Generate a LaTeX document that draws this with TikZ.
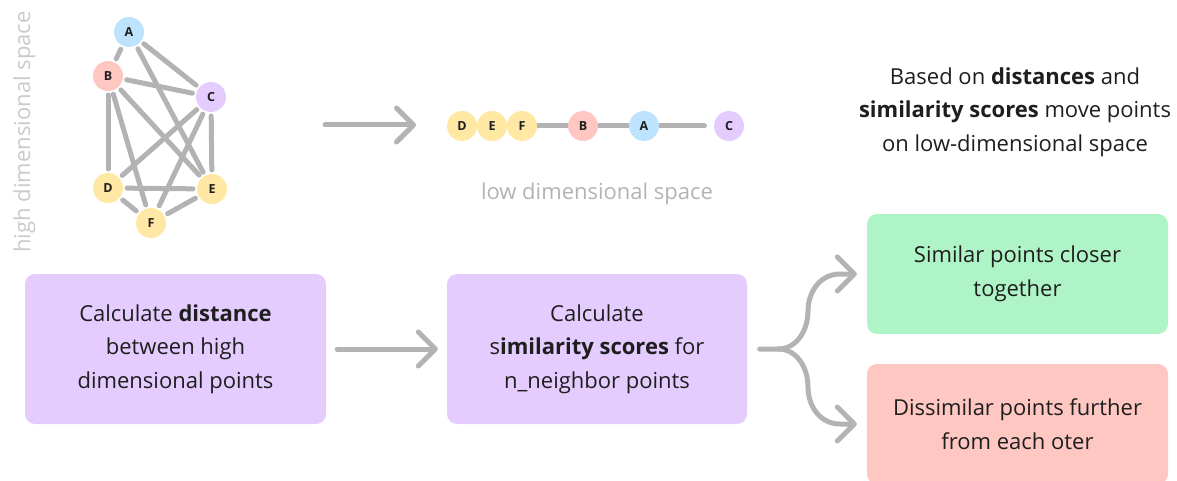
\documentclass[tikz,border=0pt]{standalone}
\usepackage{fontspec}
\setmainfont{Open Sans}
\usetikzlibrary{arrows.meta,backgrounds}
\definecolor{lblue}{HTML}{BDE3FF}
\definecolor{lred}{HTML}{FFC7C2}
\definecolor{lpurple}{HTML}{E4CCFF}
\definecolor{lyellow}{HTML}{FFE8A3}
\definecolor{lgreen}{HTML}{AFF4C6}
\definecolor{edgegray}{HTML}{B3B3B3}
\definecolor{lowtext}{HTML}{B3B3B3}
\definecolor{hightext}{HTML}{CACACA}
\definecolor{ink}{HTML}{1E1E1E}
\begin{document}
\begin{tikzpicture}[x=1pt,y=-1pt,
  every node/.style={text=ink},
  pt/.style={circle,inner sep=0pt,minimum size=30pt,font=\fontsize{12.5}{14}\selectfont\bfseries},
  gpt/.style={pt,outer sep=4pt},
  lpt/.style={pt,outer sep=0pt},
  edge/.style={line width=5pt,draw=edgegray,line cap=round},
  bigarrow/.style={line width=5pt,draw=edgegray,line cap=round,line join=round,
    -{Straight Barb[round,length=17pt,width=34pt]}},
  box/.style={rounded corners=10pt,minimum width=301pt,align=center,
    font=\fontsize{22}{33.5}\selectfont},
  label/.style={font=\fontsize{22}{33.5}\selectfont,align=center}
]
\useasboundingbox (0,0) rectangle (1177,481);

% high dimensional graph
\node[gpt,fill=lblue] (A) at (129,32) {A};
\node[gpt,fill=lred] (B) at (108,76) {B};
\node[gpt,fill=lpurple] (C) at (211,97) {C};
\node[gpt,fill=lyellow] (D) at (108,188) {D};
\node[gpt,fill=lyellow] (E) at (212,189) {E};
\node[gpt,fill=lyellow] (F) at (151,223) {F};
\foreach \u/\v in {A/B,A/C,A/E,B/C,B/D,B/F,B/E,C/D,C/F,C/E,D/E,D/F,E/F}
  \draw[edge] (\u) -- (\v);
\node[rotate=90,anchor=base,text=hightext,font=\fontsize{22}{26}\selectfont] (hightxt) at (30,132) {high dimensional space};

% arrow to low dimensional line
\coordinate (g1) at (325,125);
\coordinate (g2) at (416,125);
\draw[bigarrow] (g1) -- (g2);

% low dimensional line
\node[lpt,fill=lyellow] (lD) at (462,126) {D};
\node[lpt,fill=lyellow] (lE) at (492,126) {E};
\node[lpt,fill=lyellow] (lF) at (522,126) {F};
\node[lpt,fill=lred] (lB) at (583,126) {B};
\node[lpt,fill=lblue] (lA) at (644,126) {A};
\node[lpt,fill=lpurple] (lC) at (729,126) {C};
\coordinate (lend) at (704.5,126);
\begin{scope}[on background layer]
  \draw[edge] (lF.center) -- (lend);
\end{scope}
\node[anchor=base,text=lowtext,font=\fontsize{22}{26}\selectfont] (lowtxt) at (597,200) {low dimensional space};

% upper right text
\node[label] (note) at (1015,112) {Based on \textbf{distances} and\\\textbf{similarity scores} move points\\on low-dimensional space};

% boxes
\node[box,fill=lpurple,minimum height=150pt] (b1) at (175.5,349) {Calculate \textbf{distance}\\between high\\dimensional points};
\node[box,fill=lpurple,minimum height=150pt,minimum width=300pt] (b2) at (597,349) {Calculate\\s\textbf{imilarity scores} for\\n\_neighbor points};
\node[box,fill=lgreen,minimum height=120pt] (b3) at (1017.5,274) {Similar points closer\\together};
\node[box,fill=lred,minimum height=120pt] (b4) at (1017.5,424) {Dissimilar points further\\from each oter};

% connectors
\draw[bigarrow,shorten <=11pt,shorten >=9pt] (b1) -- (b2);
\coordinate (S) at ([xshift=12.5pt]b2.east);
\coordinate (J) at (778,349);
\coordinate (T) at ([xshift=-10pt]b3.west);
\coordinate (U) at ([xshift=-10pt]b4.west);
\draw[bigarrow] (S) -- (J) .. controls (797,349) and (808,330) .. (808,311)
  .. controls (808,292) and (820,274) .. (840,274) -- (T);
\draw[bigarrow] (J) .. controls (797,349) and (808,368) .. (808,387)
  .. controls (808,406) and (820,424) .. (840,424) -- (U);
\end{tikzpicture}
\end{document}
